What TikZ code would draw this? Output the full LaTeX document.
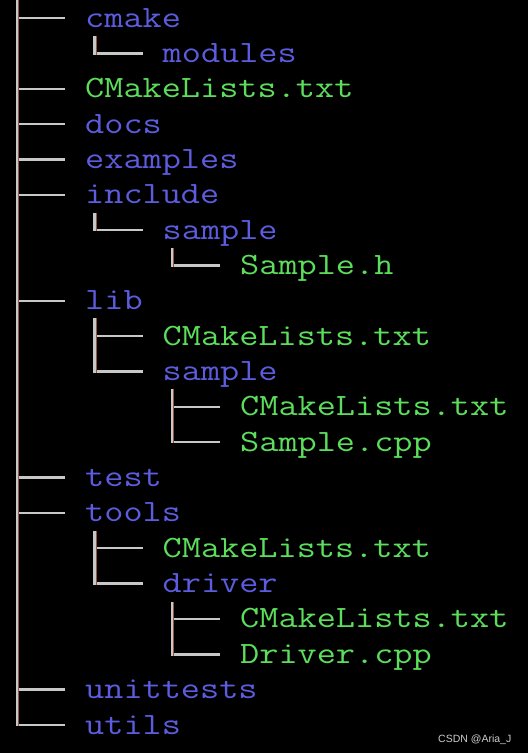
\documentclass[tikz,border=0pt]{standalone}
\usepackage{fontspec}
\newfontfamily\wmfont{Liberation Sans}
\definecolor{dirblue}{RGB}{92,92,222}
\definecolor{filegreen}{RGB}{92,222,92}
\definecolor{treegray}{RGB}{200,200,200}
\definecolor{treered}{RGB}{150,85,65}
\definecolor{wmgray}{RGB}{205,205,205}
\newcommand{\ttwide}[1]{\scalebox{1.2}[1]{#1}}
\begin{document}
\begin{tikzpicture}[x=1pt,y=-1pt,
  entry/.style={anchor=base west,inner sep=0pt,font=\fontsize{31}{31}\selectfont\ttfamily},
  dirnode/.style={entry,text=dirblue},
  filenode/.style={entry,text=filegreen},
  hline/.style={treegray,line width=2.4pt},
  vline/.style={treegray,line width=2.6pt},
  vedge/.style={treered,line width=1pt}]
\fill[black] (0,0) rectangle (528,753);
\useasboundingbox (0,0) rectangle (528,753);
% rows: index / level / style / text
\foreach \i/\l/\s/\t in {1/1/dirnode/cmake,2/2/dirnode/modules,3/1/filenode/CMakeLists.txt,
  4/1/dirnode/docs,5/1/dirnode/examples,6/1/dirnode/include,7/2/dirnode/sample,
  8/3/filenode/Sample.h,9/1/dirnode/lib,10/2/filenode/CMakeLists.txt,11/2/dirnode/sample,
  12/3/filenode/CMakeLists.txt,13/3/filenode/Sample.cpp,14/1/dirnode/test,15/1/dirnode/tools,
  16/2/filenode/CMakeLists.txt,17/2/dirnode/driver,18/3/filenode/CMakeLists.txt,
  19/3/filenode/Driver.cpp,20/1/dirnode/unittests,21/1/dirnode/utils}{
  \pgfmathsetmacro{\yy}{18+35.35*(\i-1)}
  \pgfmathsetmacro{\xv}{17+77.5*(\l-1)}
  \coordinate (b\i) at (\xv,\yy);
  \coordinate (e\i) at (\xv+48,\yy);
  \node[\s] (n\i) at (\xv+68,\yy+9) {\ttwide{\t}};
  \draw[hline] (b\i) -- (e\i);
}
% vertical trunks
\coordinate (top) at (17,0);
\coordinate (c1) at (94.5,36);
\coordinate (c6) at (94.5,213);
\coordinate (c7) at (172,248);
\coordinate (c9) at (94.5,318);
\coordinate (c11) at (172,389);
\coordinate (c15) at (94.5,531);
\coordinate (c17) at (172,602);
\foreach \a/\b in {top/b21,c1/b2,c6/b7,c7/b8,c9/b11,c11/b13,c15/b17,c17/b19}{
  \draw[vedge] ([xshift=1.8pt]\a) -- ([xshift=1.8pt,yshift=-1.2pt]\b);
  \draw[vline] (\a) -- ([yshift=-1.2pt]\b);
}
\node[anchor=base west,inner sep=0pt,text=wmgray,font=\wmfont\fontsize{10.5}{10.5}\selectfont] (wm) at (438,742) {CSDN @Aria\_J};
\end{tikzpicture}
\end{document}
